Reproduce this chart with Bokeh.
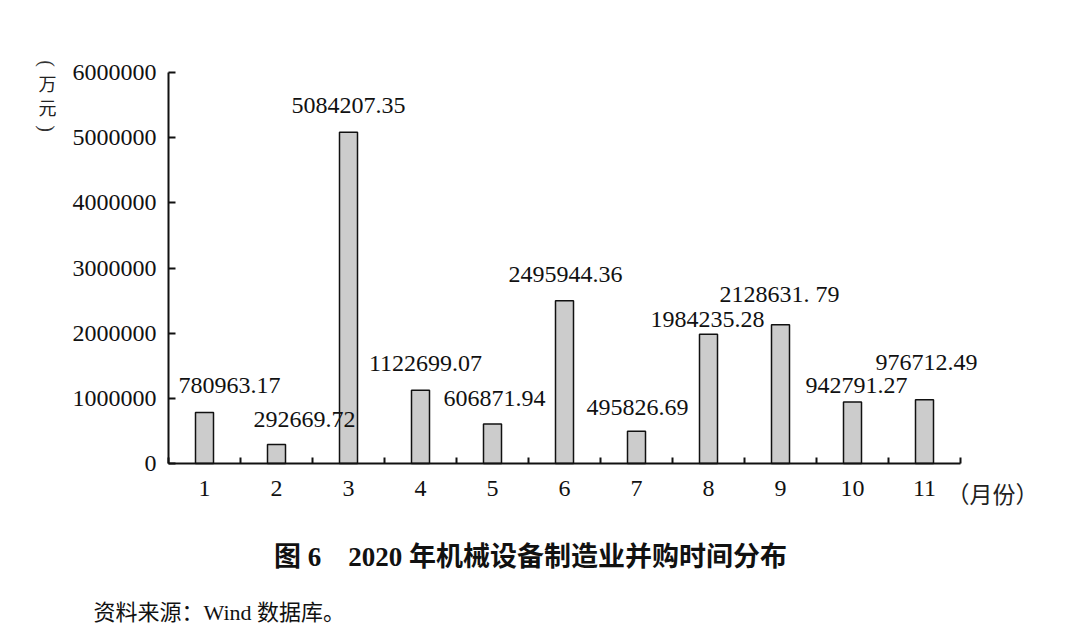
import math
from bokeh.plotting import figure
from bokeh.models import FixedTicker, Label, LabelSet, ColumnDataSource
from bokeh.embed import file_html
from bokeh.resources import INLINE

months = [1, 2, 3, 4, 5, 6, 7, 8, 9, 10, 11]
amounts = [780963.17, 292669.72, 5084207.35, 1122699.07, 606871.94, 2495944.36,
           495826.69, 1984235.28, 2128631.79, 942791.27, 976712.49]
amount_labels = ["780963.17", "292669.72", "5084207.35", "1122699.07", "606871.94",
                 "2495944.36", "495826.69", "1984235.28", "2128631. 79", "942791.27",
                 "976712.49"]
y_ticks = [0, 1000000, 2000000, 3000000, 4000000, 5000000, 6000000]
y_unit_chars = ["(", "万", "元", ")"]

# label placement (pixels, positive dy = up)
lab_dx = [25, 28, 0, 5, 2, 1, 1, -1, -1, 4, 2]
lab_dy = [27, 25, 27, 27, 25, 26, 24, 15, 31, 17, 37]

SERIF = "'Liberation Serif', 'Times New Roman', serif"
CJK = "'Noto Sans CJK SC', sans-serif"

W, H = 1072, 631
AX_L, AX_T, AX_R, AX_B = 168, 72, 960, 463   # axis box in page pixels
X0, X1 = 0.5, 11.5
Y0, Y1 = 0, 6000000
ux = (X1 - X0) / (AX_R - AX_L)
uy = (Y1 - Y0) / (AX_B - AX_T)

# the frame covers the whole canvas; axes are pinned inside it
p = figure(width=W, height=H, output_backend="svg", toolbar_location=None,
           x_range=(X0 - AX_L * ux, X1 + (W - AX_R) * ux),
           y_range=(Y0 - (H - AX_B) * uy, Y1 + AX_T * uy),
           min_border=0)
p.outline_line_color = None
p.grid.visible = False
p.background_fill_color = "white"
p.border_fill_color = "white"

src = ColumnDataSource(dict(x=months, top=amounts, txt=amount_labels, dx=lab_dx, dy=lab_dy))
p.vbar(x="x", top="top", width=0.25, source=src, fill_color="#cccccc",
       line_color="#111111", line_width=1.5)
p.add_layout(LabelSet(x="x", y="top", text="txt", x_offset="dx", y_offset="dy", source=src,
                      text_align="center", text_baseline="middle", text_font=SERIF,
                      text_font_size="24px", text_color="#111111"))

xa = p.xaxis[0]
xa.fixed_location = Y0
xa.bounds = (X0, X1)
xa.ticker = FixedTicker(ticks=months, minor_ticks=[m + 0.5 for m in [0] + months])
xa.major_tick_in = 0
xa.major_tick_out = 0
xa.minor_tick_in = 6
xa.minor_tick_out = 0
xa.minor_tick_line_color = "#111111"
xa.minor_tick_line_width = 2
xa.axis_line_color = "#111111"
xa.axis_line_width = 2
xa.major_label_text_font = SERIF
xa.major_label_text_font_size = "24px"
xa.major_label_text_color = "#111111"
xa.major_label_standoff = 17

ya = p.yaxis[0]
ya.fixed_location = X0
ya.bounds = (Y0, Y1)
ya.ticker = FixedTicker(ticks=y_ticks)
ya.minor_tick_line_color = None
ya.major_tick_in = 7
ya.major_tick_out = 0
ya.major_tick_line_color = "#111111"
ya.major_tick_line_width = 2
ya.axis_line_color = "#111111"
ya.axis_line_width = 2
ya.formatter.use_scientific = False
ya.major_label_text_font = SERIF
ya.major_label_text_font_size = "24px"
ya.major_label_text_color = "#111111"
ya.major_label_standoff = 12


def add_text(px, py, text, font, size, align="left", baseline="middle", style="normal",
             color="#111111", angle=0.0):
    # px, py are page pixels; screen units are measured from the frame's bottom-left
    p.add_layout(Label(x=px, y=H - py, x_units="screen", y_units="screen",
                       text=text, text_font=font, text_font_size=size,
                       text_font_style=style, text_color=color, text_align=align,
                       text_baseline=baseline, angle=angle))


# vertical unit label, one character per line; brackets turned for vertical writing
for ch, cy in zip(y_unit_chars, [63, 82, 106, 128]):
    if ch in "()":
        add_text(46, cy, ch, SERIF, "20px", align="center", color="#333333",
                 angle=-math.pi / 2)
    else:
        add_text(47, cy, ch, CJK, "18px", align="center", color="#222222")

add_text(946, 492, "（月份）", CJK, "23px", color="#222222")
add_text(530, 556, "图 6　2020 年机械设备制造业并购时间分布", SERIF + ", " + CJK,
         "27px", align="center", style="bold")
add_text(93, 612, "资料来源：Wind 数据库。", SERIF + ", " + CJK, "22px")

open("out.html", "w").write(file_html(p, INLINE))
